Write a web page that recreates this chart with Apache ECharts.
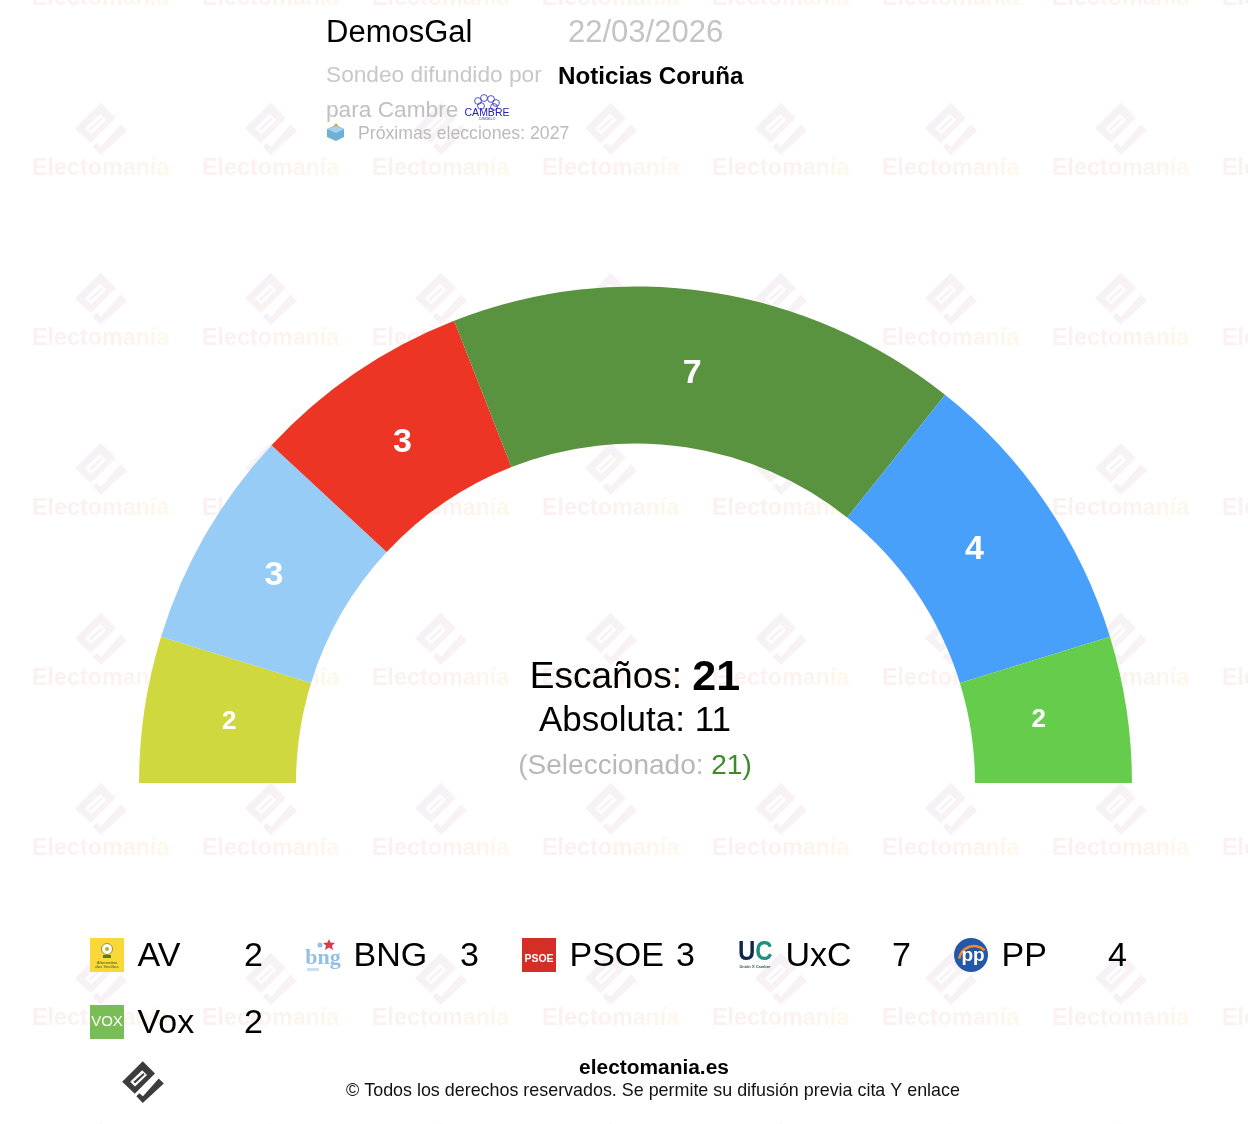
<!DOCTYPE html>
<html><head><meta charset="utf-8">
<style>html,body{margin:0;padding:0;background:#fff}#c{width:1248px;height:1124px}</style>
<script src="https://cdn.jsdelivr.net/npm/echarts@6/dist/echarts.min.js"></script>
</head><body><div id="c"></div>
<script>
const parties = ['AV','BNG','PSOE','UxC','PP','Vox'];
const seats = [2,3,3,7,4,2];
const colors = ['#d0d83f','#97ccf7','#ec3524','#5a9340','#48a0fa','#66cc4c'];
const totalSeats = 21, majority = 11, selected = 21;
const F = '"Liberation Sans", Arial, sans-serif';
const labelNudge = [[10,2],[3,3],[4,7],[-6,7],[-9,4],[-13,0]];

const chart = echarts.init(document.getElementById('c'), null, {renderer:'canvas', width:1248, height:1124});
const g = [];
function T(x,y,text,size,fill,extra){
  g.push({type:'text',x,y:y+1.5,z:5,silent:true,style:Object.assign({text,fill,font:`${size}px ${F}`,textVerticalAlign:'middle',textBaseline:'middle'},extra||{})});
}
function logoEls(cx,cy,s,fillA,fillB,z){
  const P=a=>a.map(p=>[p[0]*s,p[1]*s]);
  const grad={type:'linear',x:0,y:0,x2:1,y2:1,colorStops:[{offset:0,color:fillA},{offset:1,color:fillB}]};
  return {type:'group',x:cx,y:cy,z,silent:true,children:[
    {type:'polygon',z,shape:{points:P([[-0.3,-27.3],[15,-12],[-10.3,13.3],[-26,-1.7]])},style:{fill:grad}},
    {type:'polygon',z,shape:{points:P([[-1,-16],[5,-10],[-10,4.3],[-16,-1.7]])},style:{fill:'#fff'}},
    {type:'polygon',z,shape:{points:P([[0.5,-12.5],[2,-10.5],[-10,0.5],[-12,-1.5]])},style:{fill:grad}},
    {type:'polygon',z,shape:{points:P([[19.7,-5.7],[26,0.7],[-0.3,25],[-8.3,16.7],[-4.7,12.7],[0,16.7]])},style:{fill:grad}}
  ]};
}
// watermark: one colour per letter, pink fading to cream
const wmWord='Electomanía';
const wmFills=['#fbf0f2','#fbf0f2','#fbf1f1','#fbf1f1','#fcf1f0','#fcf2f0','#fcf3ef','#fcf4ee','#fdf5ee','#fdf6ed','#fef8ec'];
const wmRich={};wmFills.forEach((c,i)=>{wmRich['k'+i]={fill:c,font:`bold 23.3px ${F}`}});
const wmText=wmWord.split('').map((ch,i)=>`{k${i}|${ch}}`).join('');
for(let r=0;r<8;r++)for(let c=0;c<8;c++){
  const tx=101+170*c, ty=-3+170*r;
  if(r>0) g.push(logoEls(tx,ty-37,1,'#f3f0f9','#fcf4f1',0));
  g.push({type:'text',x:32+170*c,y:ty+1.5,z:0,silent:true,style:{text:wmText,rich:wmRich,textBaseline:'middle',textVerticalAlign:'middle'}});
}
// header
T(326,32,'DemosGal',31,'#000');
T(568,32,'22/03/2026',31,'#c4c4c4');
T(326,74,'Sondeo difundido por',22.7,'#c8c8c8');
T(558,76,'Noticias Coruña',24.2,'#000',{font:`bold 24.2px ${F}`});
T(326,109,'para Cambre',22.7,'#c0c0c0');
T(358,133,'Próximas elecciones: 2027',17.7,'#bbbbbb');
// Cambre logo
['478,101','484,98','491,99','496,103','481,106','494,107'].forEach(p=>{
  const a=p.split(',');g.push({type:'circle',z:5,silent:true,shape:{cx:+a[0],cy:+a[1],r:3.4},style:{fill:'none',stroke:'#2a2ab8',lineWidth:0.8}});
});
T(487,112,'CAMBRE',10.5,'#2222b4',{textAlign:'center'});
T(487,118,'CONCELLO',3,'#2222b4',{textAlign:'center'});
// ballot box icon
g.push({type:'polygon',z:5,silent:true,shape:{points:[[327,129],[336,125],[344,129],[344,137],[336,141],[327,137]]},style:{fill:'#6fb0d6'}});
g.push({type:'polygon',z:5,silent:true,shape:{points:[[333,127],[336,123],[339,127],[336,128]]},style:{fill:'#e69a4c'}});
g.push({type:'polygon',z:6,silent:true,shape:{points:[[327,129],[336,133],[344,129],[336,126]]},style:{fill:'#a5d2e8'}});
// centre
g.push({type:'text',x:635,y:678,z:6,silent:true,style:{text:'{a|Escaños: }{b|'+totalSeats+'}',textAlign:'center',textBaseline:'middle',textVerticalAlign:'middle',
  rich:{a:{font:`37px ${F}`,fill:'#000'},b:{font:`bold 43px ${F}`,fill:'#000'}}}});
T(635,720,'Absoluta: '+majority,35,'#000',{textAlign:'center'});
g.push({type:'text',x:635,y:766,z:6,silent:true,style:{text:'{a|(Seleccionado: }{b|'+selected+')}',textAlign:'center',textBaseline:'middle',textVerticalAlign:'middle',
  rich:{a:{font:`28px ${F}`,fill:'#b8b8b8'},b:{font:`28px ${F}`,fill:'#3c8a28'}}}});
// legend
const colX=[90,306,522,738,954], rowY=[955,1022];
function icon(name,x,y){
  const z=5,e=o=>{o.z=z;o.silent=true;g.push(o)};
  const txt=(tx,ty,s,font,fill,fam)=>e({type:'text',x:tx,y:ty,style:{text:s,font:font+' '+(fam||F),fill,textAlign:'center',textBaseline:'middle',textVerticalAlign:'middle'}});
  if(name==='AV'){
    e({type:'rect',shape:{x,y:y-17,width:34,height:34},style:{fill:'#fbd83a'}});
    e({type:'circle',shape:{cx:x+17,cy:y-6,r:5.5},style:{fill:'#fff',stroke:'#8a9a30',lineWidth:1}});
    e({type:'circle',shape:{cx:x+17,cy:y-6,r:2},style:{fill:'#d8a020'}});
    e({type:'rect',shape:{x:x+13,y:y,width:8,height:3},style:{fill:'#5a7a20'}});
    txt(x+17,y+8,'Alternativa','bold 4px','#5a7a20');txt(x+17,y+12,'dos Veciños','bold 4px','#5a7a20');
  } else if(name==='BNG'){
    txt(x+17,y+3,'bng','bold 22px','#93bfe6','"Liberation Serif"');
    e({type:'polygon',shape:{points:[[x+23,y-16],[x+24.5,y-12.5],[x+29,y-12],[x+26,y-9.5],[x+27,y-5],[x+23,y-7.5],[x+19,y-5],[x+20,y-9.5],[x+17,y-12],[x+21.5,y-12.5]]},style:{fill:'#dc3a4a'}});
    e({type:'circle',shape:{cx:x+14,cy:y-10,r:2.5},style:{fill:'#93bfe6'}});
    e({type:'rect',shape:{x:x+1,y:y+13,width:12,height:3},style:{fill:'#c9dff2'}});
  } else if(name==='PSOE'){
    e({type:'rect',shape:{x,y:y-17,width:34,height:34},style:{fill:'#d42e26'}});
    txt(x+17,y+4,'PSOE','bold 10.5px','#fff');
  } else if(name==='UxC'){
    e({type:'text',x:x,y:y-3,scaleY:1.15,style:{text:'{u|U}{c|C}',rich:{u:{font:`bold 24px ${F}`,fill:'#10284a'},c:{font:`bold 24px ${F}`,fill:'#1f8f80'}},textBaseline:'middle',textVerticalAlign:'middle'}});
    txt(x+17,y+12,'Unión X Cambre','bold 4px','#2a5a50');
  } else if(name==='PP'){
    e({type:'circle',shape:{cx:x+17,cy:y,r:17},style:{fill:'#2358a6'}});
    e({type:'arc',shape:{cx:x+20,cy:y+6,r:15,startAngle:Math.PI*1.05,endAngle:Math.PI*1.75},style:{fill:'none',stroke:'#ee8c2c',lineWidth:2.5}});
    txt(x+19,y+1,'pp','bold 19px','#fff');
  } else if(name==='Vox'){
    e({type:'rect',shape:{x,y:y-17,width:34,height:34},style:{fill:'#78bd55'}});
    txt(x+17,y,'VOX','15px','#fff');
  }
}
parties.forEach((p,i)=>{
  const x=colX[i%5], y=rowY[Math.floor(i/5)];
  icon(p,x,y);
  T(x+47.5,y,p,34,'#000');
  T(x+154,y,String(seats[i]),34,'#000');
});
// footer
g.push(logoEls(143,1083,0.8,'#3c3c3c','#3c3c3c',5));
T(654,1067,'electomania.es',20.9,'#000',{font:`bold 20.9px ${F}`,textAlign:'center'});
T(653,1089.5,'© Todos los derechos reservados. Se permite su difusión previa cita Y enlace',17.9,'#111',{textAlign:'center'});

chart.setOption({
  animation:false,
  backgroundColor:'#fff',
  graphic:{elements:g},
  series:[{
    type:'pie',z:2,silent:true,
    center:[635.5,783],radius:[339.5,496.5],
    startAngle:180,endAngle:360,clockwise:true,
    minAngle:0,avoidLabelOverlap:false,
    labelLine:{show:false},
    labelLayout:p=>({dx:labelNudge[p.dataIndex][0],dy:labelNudge[p.dataIndex][1]}),
    data:parties.map((p,i)=>({name:p,value:seats[i],
      itemStyle:{color:colors[i]},
      label:{show:true,position:'inside',formatter:'{c}',color:'#fff',fontWeight:'bold',fontFamily:'Liberation Sans',fontSize:seats[i]<=2?26:34}
    }))
  }]
});
</script></body></html>
